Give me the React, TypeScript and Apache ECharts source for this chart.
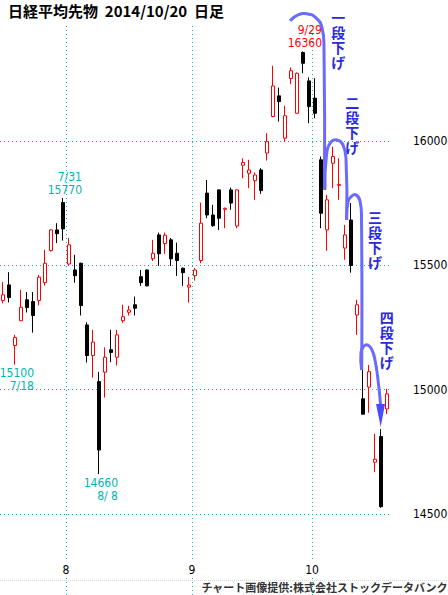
import React, { useEffect, useRef } from 'react';
import * as echarts from 'echarts';

// ---- data ----
const dates = [
  '7/16', '7/17', '7/18', '7/22', '7/23', '7/24', '7/25', '7/28', '7/29', '7/30', '7/31',
  '8/1', '8/4', '8/5', '8/6', '8/7', '8/8', '8/11', '8/12', '8/13', '8/14', '8/15', '8/18', '8/19', '8/20', '8/21', '8/22', '8/25', '8/26', '8/27', '8/28', '8/29',
  '9/1', '9/2', '9/3', '9/4', '9/5', '9/8', '9/9', '9/10', '9/11', '9/12', '9/16', '9/17', '9/18', '9/19', '9/22', '9/24', '9/25', '9/26', '9/29', '9/30',
  '10/1', '10/2', '10/3', '10/6', '10/7', '10/8', '10/9', '10/10', '10/14', '10/15', '10/16', '10/17', '10/20',
];
const opens = [
  15358, 15421, 15177, 15277, 15361, 15354, 15358, 15430, 15559, 15642, 15752,
  15505, 15481, 15508, 15260, 15137, 15032, 15070, 15160, 15130, 15277, 15311, 15341, 15454, 15481, 15526, 15622, 15587, 15602, 15548, 15488, 15412,
  15458, 15519, 15790, 15702, 15803, 15725, 15803, 15658, 15902, 15870, 15840, 15883, 15951, 16098, 16181, 16011, 16251, 16111, 16355, 16241,
  16172, 15924, 15642, 15910, 15821, 15569, 15682, 15300, 14963, 15010, 14708, 14811, 14922,
];
const closes = [
  15381, 15370, 15209, 15331, 15330, 15298, 15452, 15508, 15642, 15627, 15646,
  15582, 15458, 15338, 15137, 15191, 14757, 15130, 15149, 15220, 15293, 15320, 15327, 15430, 15417, 15548, 15546, 15621, 15526, 15519, 15470, 15420,
  15481, 15669, 15702, 15659, 15689, 15729, 15750, 15803, 15913, 15883, 15863, 15800, 15997, 16221, 16158, 16101, 16282, 16272, 16312, 16138,
  16111, 15709, 15763, 15937, 15825, 15622, 15499, 15341, 14901, 15072, 14720, 14529, 14983,
];
const lows = [
  15347, 15350, 15100, 15275, 15310, 15229, 15338, 15418, 15555, 15589, 15599,
  15500, 15430, 15298, 15109, 15048, 14660, 14968, 15110, 15097, 15269, 15298, 15298, 15417, 15415, 15517, 15497, 15546, 15497, 15457, 15417, 15350,
  15438, 15508, 15689, 15655, 15642, 15649, 15723, 15649, 15850, 15810, 15763, 15787, 15921, 16095, 16078, 15997, 16229, 16110, 16272, 16071,
  16091, 15649, 15558, 15810, 15763, 15522, 15470, 15220, 14900, 14907, 14668, 14525, 14902,
];
const highs = [
  15432, 15472, 15220, 15401, 15392, 15392, 15461, 15562, 15645, 15669, 15770,
  15609, 15542, 15510, 15271, 15240, 15071, 15170, 15240, 15240, 15341, 15337, 15374, 15481, 15483, 15602, 15631, 15631, 15610, 15591, 15490, 15453,
  15489, 15752, 15843, 15743, 15805, 15732, 15812, 15805, 15930, 15924, 15873, 15890, 16031, 16302, 16214, 16141, 16295, 16275, 16360, 16255,
  16252, 15937, 15783, 15977, 15930, 15662, 15750, 15361, 15113, 15099, 14822, 14841, 15003,
];

// value range shown on the price axis (ticks every 500)
const Y_MIN = 14174;
const Y_MAX = 16470;
const Y_STEP = 500;

// highlighted highs / lows
const noteDates = ['7/31', '9/29', '7/18', '8/8'];
const notePrices = [15770, 16360, 15100, 14660];
const noteSides = ['top', 'top', 'bottom', 'bottom'];
const noteColors = ['#00b4b4', '#ff0000', '#00b4b4', '#00b4b4'];

// blue "step-down" annotation path, in (bar index, price) space
const waveA = [[47.83, 16483], [49.17, 16507], [50.67, 16511], [52.17, 16495], [53.17, 16455], [53.5, 16366], [53.58, 15803]];
const waveB = [[53.67, 15803], [53.92, 15944], [54.67, 15996], [55.67, 16004], [56.67, 15984], [57.17, 15924], [57.28, 15682]];
const waveC = [[57.28, 15682], [57.5, 15755], [58.17, 15779], [58.83, 15783], [59.5, 15759], [59.75, 15682], [59.78, 15079]];
const waveD = [[59.78, 15079], [59.67, 15151], [60.17, 15175], [60.83, 15179], [61.5, 15159], [62.0, 15119], [62.5, 15039], [62.92, 14942]];
const arrowHead = [[62.17, 14942], [63.67, 14942], [62.95, 14850]];
const stepTexts = ['一段下げ', '二段下げ', '三段下げ', '四段下げ'];
const stepAnchors = [[55.88, 16527], [58.22, 16187], [62.0, 15724], [63.95, 15320]];

const TITLE = '日経平均先物  2014/10/20  日足';
const CREDIT = 'チャート画像提供:株式会社ストックデータバンク';

const GRID_COLOR = '#00b8b8';
const NUM_FONT = "'DejaVu Sans Condensed', 'Liberation Sans Narrow', sans-serif";
const JP_FONT = "'Noto Sans CJK JP', sans-serif";

const monthOf = (d: string) => d.split('/')[0];
const monthBounds: number[] = [];
dates.forEach((d, i) => {
  if (i > 0 && monthOf(d) !== monthOf(dates[i - 1])) monthBounds.push(i - 0.5);
});

const fmtDate = (d: string) => {
  const [m, day] = d.split('/');
  return `${m}/${day.length < 2 ? ' ' + day : day}`;
};

export default function App() {
  const ref = useRef<HTMLDivElement>(null);
  useEffect(() => {
    if (!ref.current) return;
    const chart = echarts.init(ref.current, null, { renderer: 'svg' });

    const markData = noteDates.map((d, i) => ({
      coord: [d, notePrices[i]],
      label: {
        position: noteSides[i],
        color: noteColors[i],
        formatter:
          noteSides[i] === 'top'
            ? `${fmtDate(d)}\n${notePrices[i]}`
            : `${notePrices[i]}\n${fmtDate(d)}`,
      },
    }));

    chart.setOption({
      animation: false,
      backgroundColor: '#ffffff',
      title: {
        text: TITLE,
        left: 8,
        top: 3,
        padding: 0,
        textStyle: { fontFamily: JP_FONT, fontSize: 15, fontWeight: 'bold', color: '#000' },
      },
      grid: { left: 0, right: 58, top: 24, bottom: 0, containLabel: false, outerBoundsMode: 'none' },
      xAxis: [
        { type: 'category', data: dates, show: false, boundaryGap: true },
        {
          type: 'value',
          min: -0.5,
          max: dates.length - 0.5,
          position: 'bottom',
          z: 10,
          axisLine: { show: false },
          axisTick: { show: false },
          splitLine: { show: false },
          axisLabel: {
            customValues: monthBounds,
            inside: true,
            margin: 17,
            fontFamily: NUM_FONT,
            fontSize: 12,
            color: '#000',
            backgroundColor: '#fff',
            padding: [4, 1, 2, 1],
            formatter: (v: number) => monthOf(dates[Math.ceil(v)] || ''),
          },
        },
      ],
      yAxis: {
        type: 'value',
        position: 'right',
        min: Y_MIN,
        max: Y_MAX,
        minInterval: Y_STEP,
        maxInterval: Y_STEP,
        axisLine: { show: false },
        axisTick: { show: false },
        splitLine: {
          show: true,
          showMinLine: false,
          showMaxLine: false,
          lineStyle: { color: GRID_COLOR, type: [1, 3], width: 1 },
        },
        axisLabel: {
          showMinLabel: false,
          showMaxLabel: false,
          margin: 23,
          fontFamily: NUM_FONT,
          fontSize: 12,
          color: '#000',
          formatter: (v: number) => String(v),
        },
      },
      series: [
        {
          type: 'candlestick',
          xAxisIndex: 0,
          yAxisIndex: 0,
          barWidth: 3,
          data: dates.map((_, i) => [opens[i], closes[i], lows[i], highs[i]]),
          itemStyle: {
            color: '#ffffff',
            color0: '#000000',
            borderColor: '#ff0000',
            borderColor0: '#000000',
            borderWidth: 1,
          },
          markPoint: {
            symbol: 'circle',
            symbolSize: 0,
            silent: true,
            label: {
              show: true,
              align: 'right',
              offset: [19, 0],
              distance: 2,
              fontFamily: NUM_FONT,
              fontSize: 12,
              lineHeight: 13,
            },
            data: markData,
          },
        },
        {
          type: 'line',
          xAxisIndex: 1,
          yAxisIndex: 0,
          data: [],
          silent: true,
          markLine: {
            silent: true,
            symbol: ['none', 'none'],
            label: { show: false },
            lineStyle: { color: GRID_COLOR, type: [1, 3], width: 1 },
            data: monthBounds.map((v) => ({ xAxis: v })),
          },
        },
      ],
    });

    const px = (p: number[]) => chart.convertToPixel({ seriesIndex: 1 }, p) as number[];
    const waveStyle = { stroke: '#6a6aff', lineWidth: 3, fill: null };
    const graphics: any[] = [waveA, waveB, waveC, waveD].map((w) => ({
      type: 'polyline',
      z: 100,
      silent: true,
      shape: { points: w.map(px), smooth: 0.5 },
      style: waveStyle,
    }));
    graphics.push({
      type: 'polygon',
      z: 100,
      silent: true,
      shape: { points: arrowHead.map(px) },
      style: { fill: '#4a4aff' },
    });
    stepTexts.forEach((t, i) => {
      const [x, y] = px(stepAnchors[i]);
      graphics.push({
        type: 'text',
        z: 101,
        silent: true,
        x,
        y,
        style: {
          text: t.split('').join('\n'),
          fontFamily: JP_FONT,
          fontSize: 14,
          fontWeight: 'bold',
          lineHeight: 15,
          fill: '#2a2ae0',
          align: 'center',
          verticalAlign: 'top',
        },
      });
    });
    graphics.push({
      type: 'line',
      silent: true,
      shape: { x1: 0, y1: 580.5, x2: 448, y2: 580.5 },
      style: { stroke: '#d8d8d8', lineWidth: 1, lineDash: [1, 1] },
    });
    graphics.push({
      type: 'text',
      right: 1,
      bottom: 3,
      silent: true,
      style: {
        text: CREDIT,
        fontFamily: JP_FONT,
        fontSize: 11,
        fontWeight: 'bold',
        fill: '#333',
      },
    });
    chart.setOption({ graphic: graphics });

    return () => chart.dispose();
  }, []);
  return (
    <div
      ref={ref}
      style={{ position: 'absolute', left: 0, top: 0, width: 448, height: 595 }}
    />
  );
}
